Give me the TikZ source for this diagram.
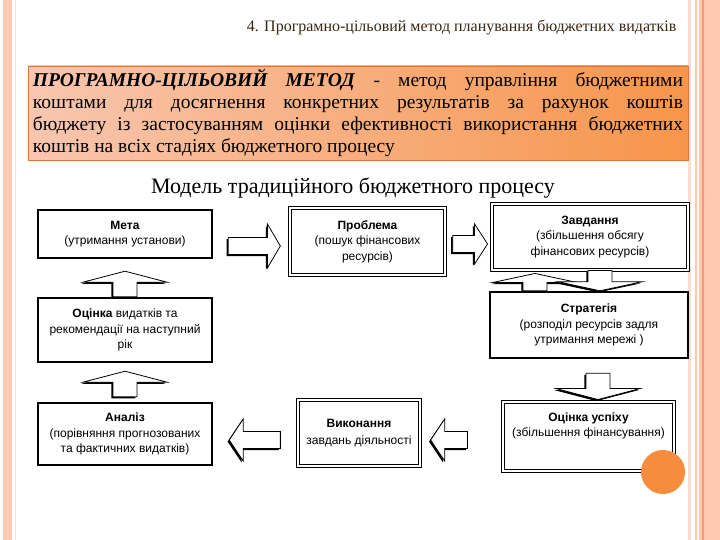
\documentclass[tikz,border=0pt]{standalone}
\usepackage{fontspec}
\setmainfont{Liberation Serif}
\newfontfamily\boxfont{Liberation Sans}
\usepackage{tikz}
\usetikzlibrary{calc}
\definecolor{peach}{HTML}{F8C6B0}
\definecolor{deeporange}{HTML}{F7954A}
\definecolor{frameorange}{HTML}{D97A3C}
\definecolor{stripe}{HTML}{FFC8B1}
\definecolor{stripeline}{HTML}{EE9C76}
\definecolor{paleline}{HTML}{F8DDD0}
\definecolor{dotorange}{HTML}{F68C3E}
\definecolor{headbrown}{HTML}{3B2712}
\tikzstyle{box} = [draw, fill=white, align=center, inner sep=2bp, font=\boxfont\fontsize{12bp}{15.5bp}\selectfont]
\tikzstyle{thickbox} = [box, line width=2.4bp]
\tikzstyle{dblbox} = [box, double, double distance=2bp, line width=0.9bp]
\tikzstyle{heavydbl} = [box, double, double distance=1.4bp, line width=1.3bp]
\tikzstyle{barrow} = [draw, fill=white, line width=0.8bp, line join=miter]
\tikzstyle{bshadow} = [fill=black, transform canvas={shift={(-1.6,1.6)}}]
\tikzstyle{defbox} = [draw=frameorange, line width=0.8bp, left color=peach, right color=deeporange, minimum width=660bp, minimum height=94bp, text width=650bp, inner sep=0pt, align=justify, font=\fontsize{19.5bp}{22bp}\selectfont]
\newcommand{\blockarrow}[5]{%
  \coordinate (ba) at ($(#2)!#5!(#1)$);
  \coordinate (ba1) at ($(#1)!#3!90:(#2)$);
  \coordinate (ba2) at ($(ba)!#3!90:(#2)$);
  \coordinate (ba3) at ($(ba)!#4!90:(#2)$);
  \coordinate (ba4) at ($(ba)!#4!-90:(#2)$);
  \coordinate (ba5) at ($(ba)!#3!-90:(#2)$);
  \coordinate (ba6) at ($(#1)!#3!-90:(#2)$);
  \fill[bshadow] (ba1) -- (ba2) -- (ba3) -- (#2) -- (ba4) -- (ba5) -- (ba6) -- cycle;
  \draw[barrow] (ba1) -- (ba2) -- (ba3) -- (#2) -- (ba4) -- (ba5) -- (ba6) -- cycle;
}
\begin{document}
\begin{tikzpicture}[x=1bp, y=-1bp]
  \useasboundingbox (0,0) rectangle (720,540);
  \fill[white] (0,0) rectangle (720,540);
  \fill[stripe] (3,0) rectangle (12,540);
  \draw[paleline, line width=1bp] (15,0) -- (15,540);
  \fill[paleline] (688,0) rectangle (691,540);
  \draw[stripe, line width=1.2bp] (696,0) -- (696,540);
  \fill[stripe] (699,0) rectangle (720,540);
  \draw[stripeline, line width=1.2bp] (703,0) -- (703,540);

  \node[anchor=base east, text=headbrown, font=\fontsize{16bp}{18bp}\selectfont] at (680,32) (hdr) {4. Програмно-цільовий метод планування бюджетних видатків};
  \node[defbox] at (358,113) (defn) {\textbf{\textit{ПРОГРАМНО-ЦІЛЬОВИЙ МЕТОД}} - метод управління бюджетними\linebreak коштами для досягнення конкретних результатів за рахунок коштів\linebreak бюджету із застосуванням оцінки ефективності використання бюджетних\linebreak коштів на всіх стадіях бюджетного процесу};
  \node[font=\fontsize{22bp}{24bp}\selectfont] at (353,188) (model) {Модель традиційного бюджетного процесу};

  \node[thickbox, minimum width=174bp, minimum height=48bp] at (125,234) (meta) {\textbf{Мета}\\(утримання установи)};
  \node[heavydbl, minimum width=155bp, minimum height=67bp] at (367.5,241.5) (problema) {\textbf{Проблема}\\(пошук фінансових\\ресурсів)};
  \node[dblbox, minimum width=196bp, minimum height=66bp] at (590,237) (zavd) {\textbf{Завдання}\\(збільшення обсягу\\фінансових ресурсів)};
  \node[thickbox, minimum width=174bp, minimum height=64bp] at (125,330) (otsinka) {\textbf{Оцінка} видатків та\\рекомендації на наступний\\рік};
  \node[thickbox, minimum width=198bp, minimum height=66bp] at (589,325) (strat) {\textbf{Стратегія}\\(розподіл ресурсів задля\\утримання мережі )};
  \node[thickbox, minimum width=174bp, minimum height=62bp] at (125,434) (analiz) {\textbf{Аналіз}\\(порівняння прогнозованих\\та фактичних видатків)};
  \node[heavydbl, minimum width=122bp, minimum height=66bp] at (359,433) (vykon) {\textbf{Виконання}\\[2bp]завдань діяльності};
  \node[dblbox, minimum width=171bp, minimum height=69bp] at (588.5,436.5) (uspikh) {\textbf{Оцінка успіху}\\(збільшення фінансування)\\[8bp]\mbox{}};
  \node[circle, fill=dotorange, minimum size=44bp, inner sep=0pt] at (663,472) (dot) {};

  \coordinate (r1a) at ($(meta.east)+(15,12)$);
  \coordinate (r1b) at ($(problema.west)+(-9,4.5)$);
  \coordinate (r2a) at ($(problema.east)+(7,2.5)$);
  \coordinate (r2b) at ($(zavd.west)+(-4,7)$);
  \coordinate (u1a) at (otsinka.north);
  \coordinate (u1b) at ($(meta.south)+(0,12)$);
  \coordinate (u2a) at ($(analiz.north)+(0,-5)$);
  \coordinate (u2b) at ($(otsinka.south)+(0,8)$);
  \coordinate (u3a) at ($(strat.north)+(-54,0)$);
  \coordinate (u3b) at ($(zavd.south)+(-55,3)$);
  \coordinate (d1a) at ($(zavd.south)+(10,0)$);
  \coordinate (d1b) at ($(strat.north)+(11,0)$);
  \coordinate (d2a) at ($(strat.south)+(9,14)$);
  \coordinate (d2b) at ($(uspikh.north)+(9.5,-2)$);
  \coordinate (l1a) at ($(vykon.west)+(-17,7)$);
  \coordinate (l1b) at ($(analiz.east)+(16,6)$);
  \coordinate (l2a) at ($(uspikh.west)+(-35,3.5)$);
  \coordinate (l2b) at ($(vykon.east)+(10,7)$);

  \blockarrow{r1a}{r1b}{8.5bp}{22bp}{13bp}
  \blockarrow{r2a}{r2b}{8.5bp}{20bp}{13bp}
  \blockarrow{u1a}{u1b}{12bp}{42bp}{11bp}
  \blockarrow{u2a}{u2b}{12bp}{42bp}{11bp}
  \blockarrow{u3a}{u3b}{12bp}{42bp}{9bp}
  \blockarrow{d1a}{d1b}{12bp}{42bp}{9bp}
  \blockarrow{d2a}{d2b}{12bp}{42bp}{11bp}
  \blockarrow{l1a}{l1b}{8.5bp}{21bp}{14bp}
  \blockarrow{l2a}{l2b}{8.5bp}{21bp}{14bp}
\end{tikzpicture}
\end{document}
